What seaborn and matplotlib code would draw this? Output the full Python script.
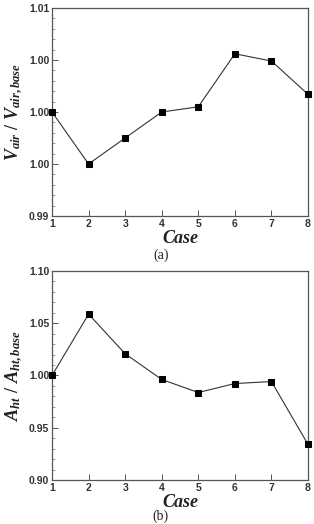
import numpy as np
import pandas as pd
import matplotlib
matplotlib.use("Agg")
import matplotlib.pyplot as plt
import seaborn as sns
from matplotlib.ticker import AutoMinorLocator

cases = [1, 2, 3, 4, 5, 6, 7, 8]
v_ratio = [1.0000, 0.9950, 0.9975, 1.0000, 1.0005, 1.0056, 1.0049, 1.0017]
a_ratio = [1.0000, 1.0587, 1.0208, 0.9962, 0.9837, 0.9923, 0.9942, 0.9340]
v_ticks = [0.990, 0.995, 1.000, 1.005, 1.010]
v_ticklabels = ["0.99", "1.00", "1.00", "1.00", "1.01"]
a_ticks = [0.90, 0.95, 1.00, 1.05, 1.10]
a_ticklabels = ["0.90", "0.95", "1.00", "1.05", "1.10"]

sns.set_theme(style="white")
plt.rcParams["mathtext.fontset"] = "custom"
plt.rcParams["mathtext.it"] = "Liberation Serif:italic:bold"
plt.rcParams["mathtext.rm"] = "Liberation Serif:bold"
plt.rcParams["mathtext.bf"] = "Liberation Serif:bold"
plt.rcParams["font.family"] = ["Liberation Sans", "DejaVu Sans"]

fig = plt.figure(figsize=(3.14, 5.24), dpi=100)
ax1 = fig.add_axes([0.1656, 0.5878, 0.8154, 0.3969])
ax2 = fig.add_axes([0.1656, 0.0840, 0.8154, 0.3988])

df1 = pd.DataFrame({"Case": cases, "val": v_ratio})
df2 = pd.DataFrame({"Case": cases, "val": a_ratio})

serif = ["Liberation Serif", "DejaVu Serif"]
panels = [
    (ax1, df1, v_ticks, v_ticklabels, (0.99, 1.01),
     r"$V_{air}\ /\ V_{air,base}$", "(a)", 0.5134),
    (ax2, df2, a_ticks, a_ticklabels, (0.90, 1.10),
     r"$A_{ht}\ /\ A_{ht,base}$", "(b)", 0.0153),
]

for ax, df, yt, ytl, ylim, ylab, tag, tag_y in panels:
    sns.lineplot(data=df, x="Case", y="val", ax=ax, color="#333333",
                 linewidth=0.8, marker="s", markersize=5,
                 markerfacecolor="black", markeredgecolor="black",
                 clip_on=False, zorder=3)
    ax.set_xlim(1, 8)
    ax.set_ylim(*ylim)
    ax.set_xticks(cases)
    ax.set_xticklabels([str(c) for c in cases], fontsize=7.5, fontweight="bold",
                       color="#333333")
    ax.set_yticks(yt)
    ax.set_yticklabels(ytl, fontsize=7.5, fontweight="bold", color="#333333")
    ax.yaxis.set_minor_locator(AutoMinorLocator(5))
    ax.tick_params(axis="both", which="major", direction="in", length=4,
                   width=0.7, color="#555555", pad=2,
                   left=True, bottom=True, top=False, right=False)
    ax.tick_params(axis="y", which="minor", direction="in", length=2,
                   width=0.5, color="#777777", left=True, right=False)
    for s in ax.spines.values():
        s.set_color("#555555")
        s.set_linewidth(0.9)
    ax.set_xlabel("Case", fontsize=13, fontweight="bold", fontstyle="italic",
                  family=serif, labelpad=1, color="#222222")
    ax.set_ylabel(ylab, fontsize=13, labelpad=3, color="#222222")
    fig.text(0.512, tag_y, tag, ha="center", va="center",
             fontsize=10, family=serif, color="#222222")
    ax.grid(False)

fig.savefig("out.png", dpi=100)
